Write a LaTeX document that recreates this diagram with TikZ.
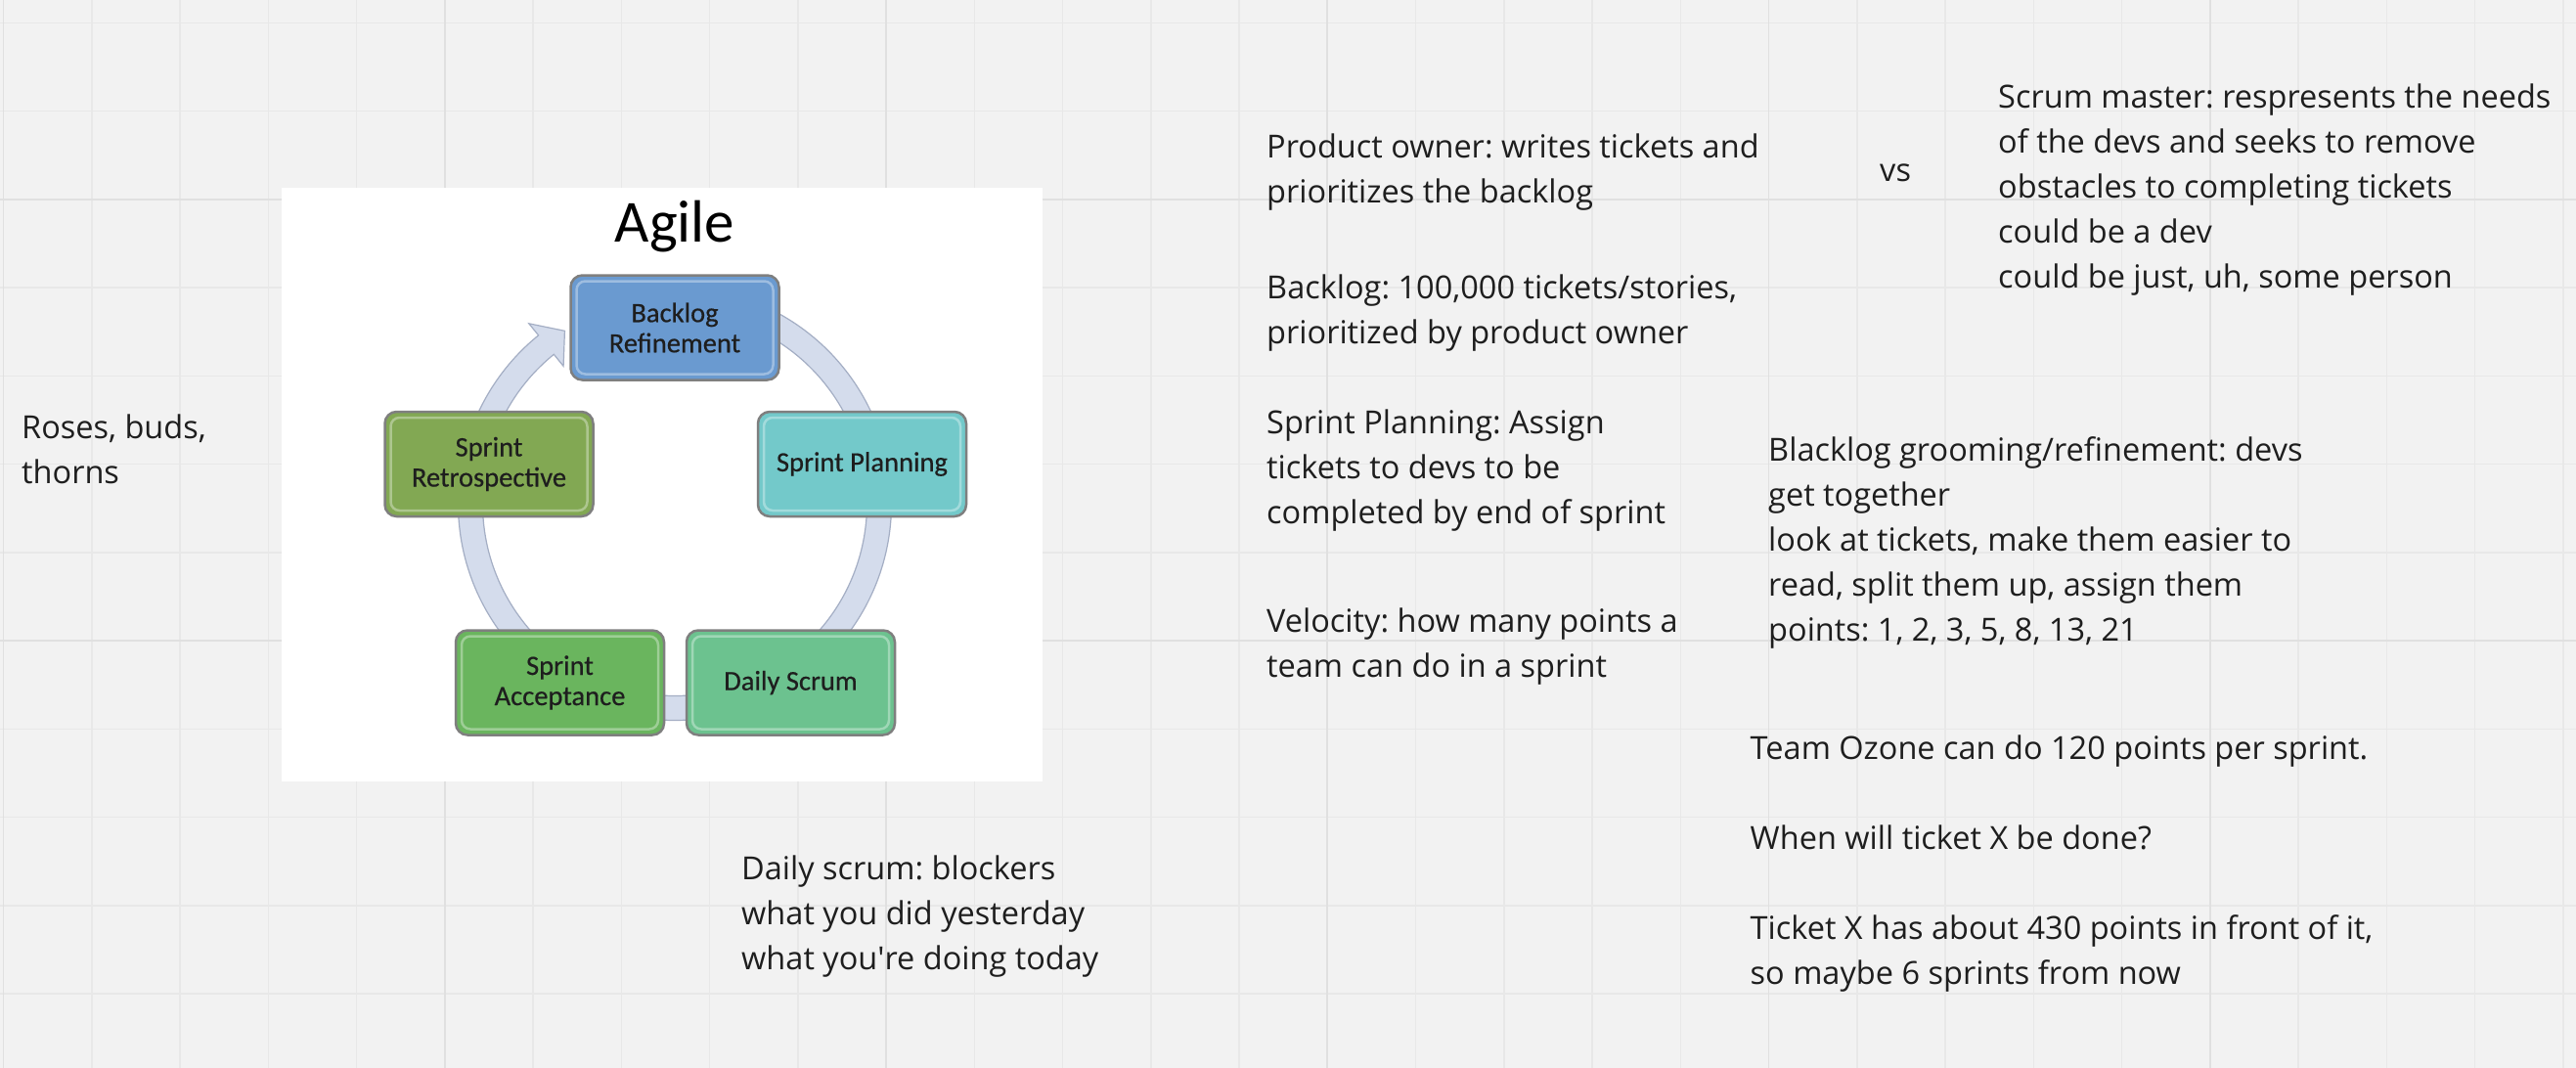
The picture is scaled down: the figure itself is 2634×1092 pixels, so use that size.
\documentclass[tikz,border=0pt]{standalone}
\usepackage{fontspec}
\setmainfont{Open Sans}
\newfontfamily\calib{Carlito}
\newfontfamily\calibbox{Carlito}[FakeBold=0.5]
\usetikzlibrary{calc}
\definecolor{bg}{HTML}{F2F2F2}
\definecolor{gridminor}{HTML}{E8E8E8}
\definecolor{gridmajor}{HTML}{E0E0E0}
\definecolor{txt}{HTML}{1E1E1E}
\definecolor{boxedge}{HTML}{7F7F7F}
\definecolor{ringfill}{HTML}{D4DCEC}
\definecolor{ringedge}{HTML}{A4AEC4}
\definecolor{cBR}{HTML}{6A9AD0}
\definecolor{cSP}{HTML}{73C9CA}
\definecolor{cDS}{HTML}{6CC28F}
\definecolor{cSA}{HTML}{6AB55E}
\definecolor{cSR}{HTML}{82A853}
\frenchspacing
\newcommand{\notebox}[1]{\parbox[t]{900pt}{\fontsize{32.5pt}{46pt}\selectfont\frenchspacing\raggedright #1}}
\begin{document}
\begin{tikzpicture}[x=1pt,y=-1pt,
  note/.style={anchor=base west, inner sep=0pt, text=txt},
  minorline/.style={draw=gridminor, line width=1.5pt},
  majorline/.style={draw=gridmajor, line width=1.8pt},
  stage/.style={draw=boxedge, line width=2.5pt, rounded corners=12pt,
    minimum width=213pt, minimum height=107pt, inner sep=2pt, align=center,
    font=\calibbox\fontsize{28.5pt}{31pt}\selectfont, text=txt,
    path picture={\draw[white, opacity=0.35, line width=2.5pt, rounded corners=9pt]
      ([shift={(6pt,-6pt)}]path picture bounding box.north west) rectangle
      ([shift={(-6pt,6pt)}]path picture bounding box.south east);}}]
\useasboundingbox (0,0) rectangle (2634,1092);
\fill[bg] (0,0) rectangle (2634,1092);
% grid
\foreach \i in {0,...,29} \draw[minorline] ({3.5+90.25*\i},0) -- ({3.5+90.25*\i},1092);
\foreach \j in {0,...,11} \draw[minorline] (0,{23.3+90.25*\j}) -- (2634,{23.3+90.25*\j});
\foreach \i in {0,...,5} \draw[majorline] ({3.5+451.25*\i},0) -- ({3.5+451.25*\i},1092);
\foreach \j in {0,1} \draw[majorline] (0,{203.8+451.25*\j}) -- (2634,{203.8+451.25*\j});
% picture
\fill[white] (288,192) rectangle (1066,799);
\node[font=\calib\fontsize{61pt}{64pt}\selectfont, anchor=base, text=black, inner sep=0pt] (title) at (690,247) {Agile};
\coordinate (C) at (690,515);
\filldraw[fill=ringfill, draw=ringedge, line width=1.2pt]
  ($(C)+(-90:221.5)$) arc[start angle=-90, end angle=231, radius=221.5]
  -- ($(C)+(231:237)$) -- ($(C)+(237.5:209.5)$) -- ($(C)+(231:181)$)
  -- ($(C)+(231:196.5)$) arc[start angle=231, end angle=-90, radius=196.5] -- cycle;
\node[stage, fill=cBR] (br) at (690,335) {Backlog\\Refinement};
\node[stage, fill=cSP] (sp) at (881.5,474.5) {Sprint Planning};
\node[stage, fill=cDS] (ds) at (808.5,698) {Daily Scrum};
\node[stage, fill=cSA] (sa) at (572.5,698) {Sprint\\Acceptance};
\node[stage, fill=cSR] (sr) at (500,474.5) {Sprint\\Retrospective};
% notes
\node[note] (roses) at (22,448.3) {\notebox{Roses, buds,\\thorns}};
\node[note] (daily) at (758,899.3) {\notebox{Daily scrum: blockers\\what you did yesterday\\what you\textquotesingle re doing today}};
\node[note] (po) at (1295,161) {\notebox{Product owner: writes tickets and\\prioritizes the backlog}};
\node[note] (backlog) at (1295,305) {\notebox{Backlog: 100,000 tickets/stories,\\prioritized by product owner}};
\node[note] (planning) at (1295,443.5) {\notebox{Sprint Planning: Assign\\tickets to devs to be\\completed by end of sprint}};
\node[note] (velocity) at (1295,646.5) {\notebox{Velocity: how many points a\\team can do in a sprint}};
\node[note] (vs) at (1922,185) {\notebox{vs}};
\node[note] (sm) at (2043,110) {\notebox{Scrum master: respresents the needs\\of the devs and seeks to remove\\obstacles to completing tickets\\could be a dev\\could be just, uh, some person}};
\node[note] (groom) at (1808,471.7) {\notebox{Blacklog grooming/refinement: devs\\get together\\look at tickets, make them easier to\\read, split them up, assign them\\points: 1, 2, 3, 5, 8, 13, 21}};
\node[note] (ozone) at (1789.5,776.7) {\notebox{Team Ozone can do 120 points per sprint.\\[46pt]When will ticket X be done?\\[46pt]Ticket X has about 430 points in front of it,\\so maybe 6 sprints from now}};
\end{tikzpicture}
\end{document}
